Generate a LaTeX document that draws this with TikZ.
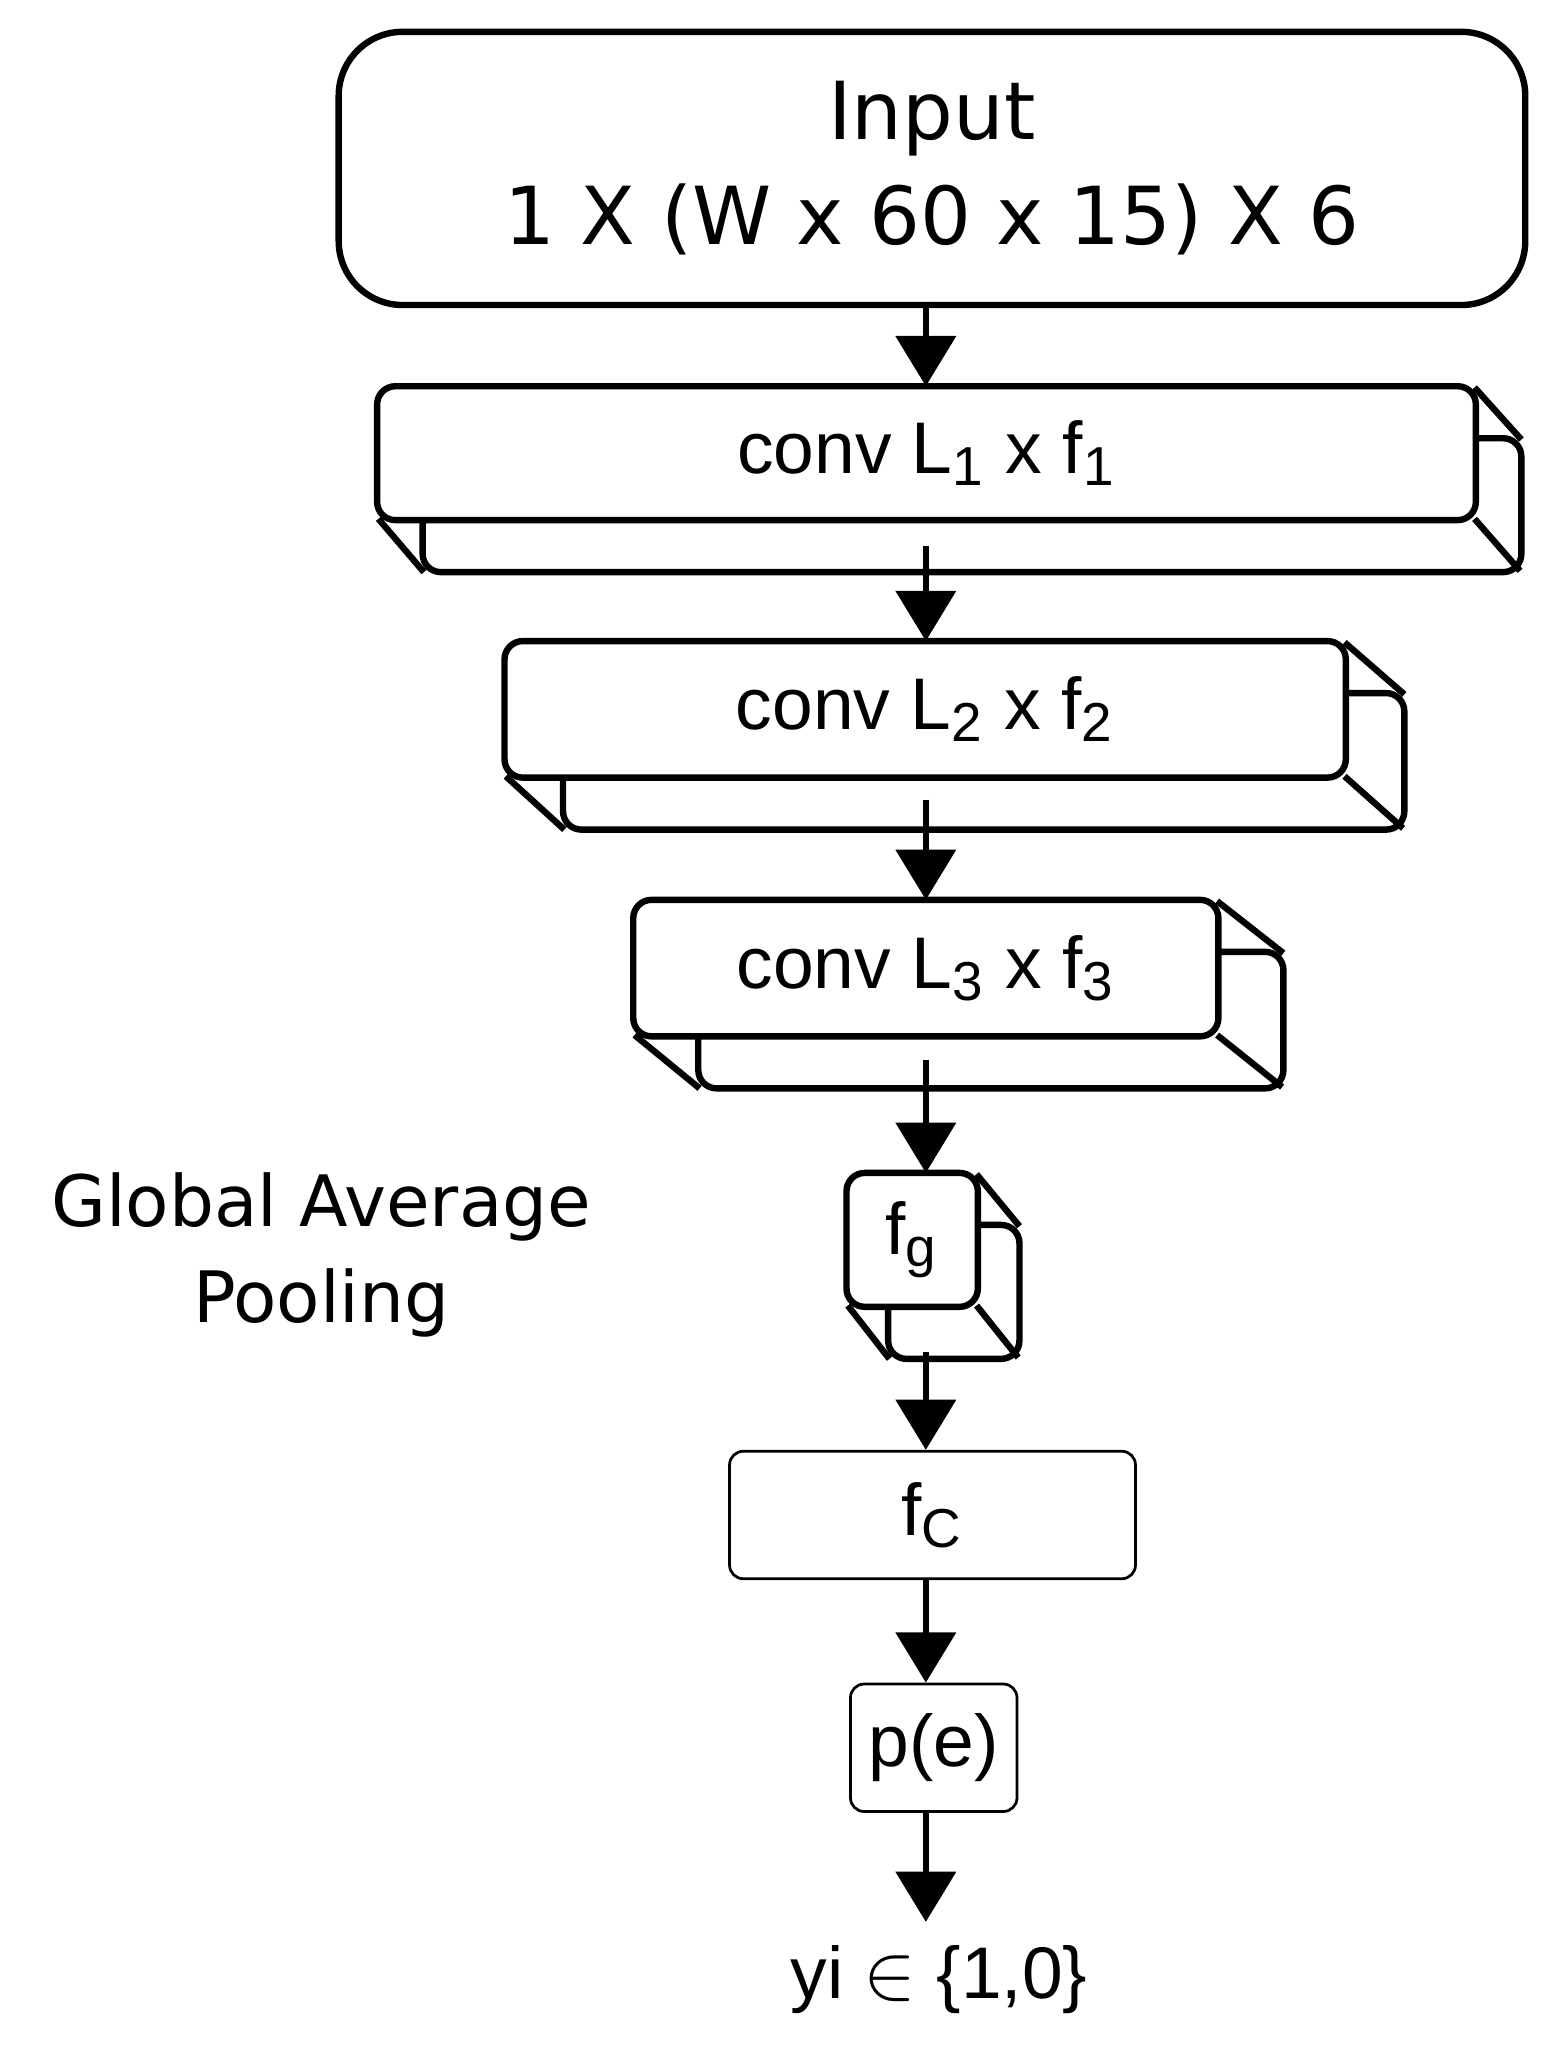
\documentclass[tikz,border=0pt]{standalone}
\usepackage{fontspec}
\setmainfont{Liberation Sans}
\newfontfamily\dvs{DejaVu Sans}
\usetikzlibrary{arrows.meta}
\begin{document}
\begin{tikzpicture}[x=0.01cm,y=-0.01cm,
  thk/.style={line width=1.4pt},
  arr/.style={thk,-{Triangle[length=11pt,width=13pt]}},
  t/.style={font=\fontsize{16}{18}\selectfont}]
\useasboundingbox (0,0) rectangle (1200,1575);
% input
\node[thk,draw,fill=white,rounded corners=14pt,inner sep=0pt,anchor=north west,minimum width=9.12cm,minimum height=2.1cm,align=center,font=\dvs\fontsize{17.5}{23}\selectfont] (in) at (258,22) {Input\\1 X (W x 60 x 15) X 6};
\newcommand\cube[8]{%
  \draw[thk,fill=white,rounded corners=4pt] (#2+#6,#3+#7) rectangle (#4+#6,#5+#7);
  \draw[thk] (#4-1,#3+1) -- (#4+#6,#3+#7+1) (#2+1,#5-1) -- (#2+#6+1,#5+#7) (#4-1,#5-1) -- (#4+#6-1,#5+#7-1);
  \draw[thk,fill=white,rounded corners=4pt] (#2,#3) rectangle (#4,#5);
  \node[t] (#1) at ({(#2+#4)/2},{(#3+#5)/2}) {#8};}
\newcommand\sub[1]{\textsubscript{\fontsize{12}{12}\selectfont #1}}
\cube{c1}{290}{297}{1135}{400}{35}{40}{conv L\sub{1} x f\sub{1}}
\cube{c2}{388}{493}{1035}{598}{45}{40}{conv L\sub{2} x f\sub{2}}
\cube{c3}{487}{692}{937}{797}{50}{40}{conv L\sub{3} x f\sub{3}}
\cube{fg}{651}{902}{752}{1005}{32}{40}{f\sub{g}}
\node[draw,line width=0.6pt,rounded corners=3pt,anchor=north west,minimum width=3.12cm,minimum height=0.98cm,t] (fc) at (560,1115) {f\sub{C}};
\node[draw,line width=0.6pt,rounded corners=3pt,anchor=north west,minimum width=1.28cm,minimum height=0.98cm,t] (pe) at (653,1294) {p(e)};
\node[t] (y) at (722,1522) {yi $\in$ \{1,0\}};
\node[font=\dvs\fontsize{15.5}{21}\selectfont,align=center] (gap) at (247,965) {Global Average\\Pooling};
\coordinate (a0) at (712,232);
\coordinate (a1) at (712,420);
\coordinate (a2) at (712,615);
\coordinate (a3) at (712,815);
\coordinate (a4) at (712,1040);
\coordinate (b1) at (712,297);
\coordinate (b2) at (712,493);
\coordinate (b3) at (712,692);
\coordinate (b4) at (712,902);
\draw[arr] (a0) -- (b1);
\draw[arr] (a1) -- (b2);
\draw[arr] (a2) -- (b3);
\draw[arr] (a3) -- (b4);
\draw[arr] (a4) -- (fc.north -| a4);
\draw[arr] (fc.south -| a4) -- (pe.north -| a4);
\draw[arr] (pe.south -| a4) -- (712,1478);
\end{tikzpicture}
\end{document}
